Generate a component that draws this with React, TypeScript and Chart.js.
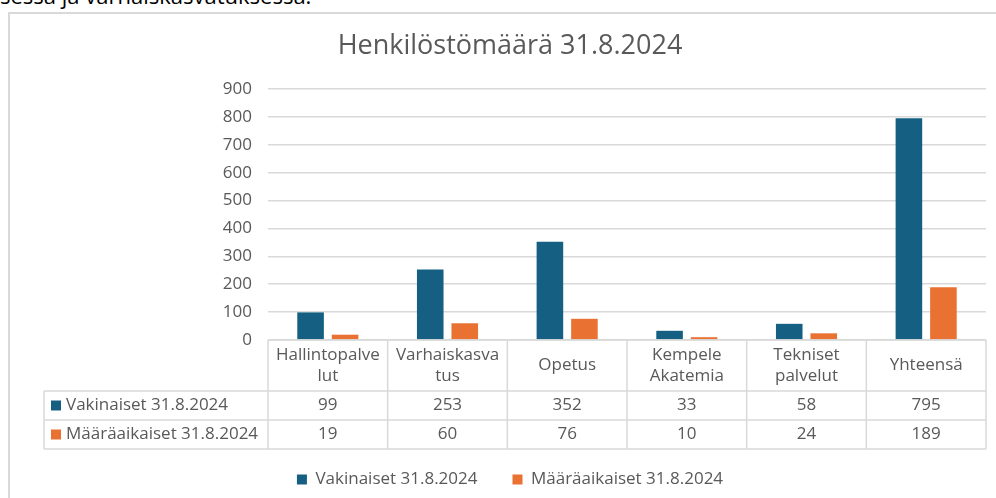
import React, { useEffect, useRef } from "react";
import { Chart, registerables } from "chart.js";

Chart.register(...registerables);

const title = "Henkilöstömäärä 31.8.2024";
const categories: string[][] = [
  ["Hallintopalve", "lut"],
  ["Varhaiskasva", "tus"],
  ["Opetus"],
  ["Kempele", "Akatemia"],
  ["Tekniset", "palvelut"],
  ["Yhteensä"],
];
const seriesNames = ["Vakinaiset 31.8.2024", "Määräaikaiset 31.8.2024"];
const vakinaiset = [99, 253, 352, 33, 58, 795];
const maaraaikaiset = [19, 60, 76, 10, 24, 189];
const seriesColors = ["#156082", "#E97132"];
const yMax = 900;
const yStep = 100;

const FONT = "'Open Sans', 'Noto Sans', sans-serif";
const TEXT = "#595959";
const GRID = "#d9d9d9";

const tablePlugin = {
  id: "dataTable",
  afterDraw(chart: any) {
    const { ctx, chartArea, scales } = chart;
    const x = scales.x;
    const n = categories.length;
    const colW = (chartArea.right - chartArea.left) / n;
    const top = chartArea.bottom;
    const headH = 51;
    const rowH = 29;
    const tableLeft = 44;
    const bottom = top + headH + rowH * 2;
    const right = x.getPixelForValue(n - 1) + colW / 2;
    const left = x.getPixelForValue(0) - colW / 2;
    ctx.save();
    ctx.strokeStyle = GRID;
    ctx.lineWidth = 1.5;
    const line = (x1: number, y1: number, x2: number, y2: number) => {
      ctx.beginPath();
      ctx.moveTo(x1, y1);
      ctx.lineTo(x2, y2);
      ctx.stroke();
    };
    line(left, top, right, top);
    line(tableLeft, top + headH, right, top + headH);
    line(tableLeft, top + headH + rowH, right, top + headH + rowH);
    line(tableLeft, bottom, right, bottom);
    line(tableLeft, top + headH, tableLeft, bottom);
    for (let i = 0; i <= n; i++) {
      const xl = x.getPixelForValue(i) - colW / 2;
      line(xl, top, xl, bottom);
    }
    ctx.fillStyle = TEXT;
    ctx.font = `17px ${FONT}`;
    ctx.textAlign = "center";
    ctx.textBaseline = "middle";
    const lh = 21.5;
    categories.forEach((lines, i) => {
      const cx = x.getPixelForValue(i);
      const cy = top + headH / 2;
      const y0 = cy - ((lines.length - 1) * lh) / 2;
      lines.forEach((t, k) => ctx.fillText(t, cx, y0 + k * lh));
    });
    const rows = [vakinaiset, maaraaikaiset];
    rows.forEach((vals, r) => {
      const cy = top + headH + rowH * r + rowH / 2;
      vals.forEach((v, i) => {
        ctx.fillStyle = TEXT;
        ctx.textAlign = "center";
        ctx.fillText(String(v), x.getPixelForValue(i), cy);
      });
      ctx.fillStyle = seriesColors[r];
      ctx.fillRect(tableLeft + 7, cy - 5, 10, 10);
      ctx.fillStyle = TEXT;
      ctx.textAlign = "left";
      ctx.fillText(seriesNames[r], tableLeft + 22, cy);
    });
    ctx.restore();
  },
};

export default function App() {
  const ref = useRef<HTMLCanvasElement>(null);
  useEffect(() => {
    const chart = new Chart(ref.current as HTMLCanvasElement, {
      type: "bar",
      data: {
        labels: categories.map((c) => c.join("")),
        datasets: [
          {
            label: seriesNames[0],
            data: vakinaiset,
            backgroundColor: seriesColors[0],
            borderWidth: 0,
            categoryPercentage: 0.577,
            barPercentage: 0.77,
          },
          {
            label: seriesNames[1],
            data: maaraaikaiset,
            backgroundColor: seriesColors[1],
            borderWidth: 0,
            categoryPercentage: 0.577,
            barPercentage: 0.77,
          },
        ],
      },
      options: {
        responsive: false,
        animation: false,
        layout: { padding: { left: 34, right: 10, top: 0, bottom: 0 } },
        plugins: {
          title: {
            display: true,
            text: title,
            color: TEXT,
            font: { family: FONT, size: 27, weight: "normal", lineHeight: 1.2 },
            padding: { top: 29.8, bottom: 26.8 },
          },
          legend: {
            position: "bottom",
            labels: {
              color: TEXT,
              font: { family: FONT, size: 17 },
              boxWidth: 10,
              boxHeight: 10,
              padding: 35,
            },
          },
          tooltip: { enabled: false },
        },
        scales: {
          x: {
            grid: { display: false },
            border: { display: false },
            ticks: { display: false },
            afterFit: (s: any) => {
              s.height = 96;
            },
          },
          y: {
            min: 0,
            max: yMax,
            grid: { color: GRID, lineWidth: 1.5, drawTicks: false },
            border: { display: false },
            ticks: {
              stepSize: yStep,
              color: TEXT,
              padding: 16,
              font: { family: FONT, size: 17 },
            },
            afterFit: (s: any) => {
              s.width = 234;
            },
          },
        },
      },
      plugins: [tablePlugin],
    } as any);
    return () => chart.destroy();
  }, []);
  return (
    <div style={{ position: "fixed", left: 0, top: 0, width: 996, height: 498, overflow: "hidden", background: "#fff" }}>
      <div
        style={{
          position: "absolute",
          left: 0,
          top: -16,
          fontFamily: FONT,
          fontSize: 22,
          lineHeight: "22px",
          color: "#000",
          whiteSpace: "nowrap",
        }}
      >
        sessa ja varhaiskasvatuksessa.
      </div>
      <div
        style={{
          position: "absolute",
          left: 8,
          top: 12,
          width: 1100,
          height: 600,
          borderLeft: "2px solid #d9d9d9",
          borderTop: "2px solid #d9d9d9",
        }}
      />
      <canvas ref={ref} width={996} height={498} style={{ position: "absolute", left: 0, top: 0 }} />
    </div>
  );
}
